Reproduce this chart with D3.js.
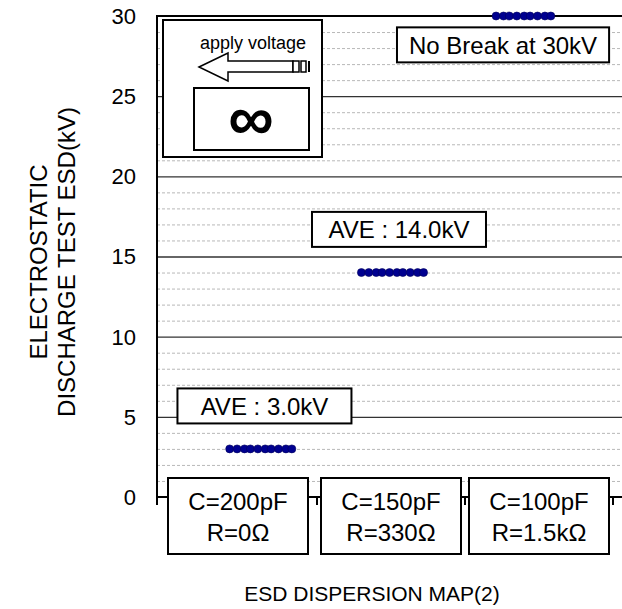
<!DOCTYPE html>
<html>
<head>
<meta charset="utf-8">
<script src="https://cdn.jsdelivr.net/npm/d3@7"></script>
<style>
  body { margin: 0; background: #fff; }
  svg { display: block; font-family: Arial, "Liberation Sans", sans-serif; }
</style>
</head>
<body>
<svg width="622" height="609"></svg>
<script>
// conditions (x axis categories)
const capLabels = ['C=200pF', 'C=150pF', 'C=100pF'];
const resLabels = ['R=0\u03A9', 'R=330\u03A9', 'R=1.5k\u03A9'];

// sample positions inside each category and the measured ESD level (kV)
const sampleX1 = [0.41, 0.46, 0.51, 0.55, 0.60, 0.65, 0.69, 0.74, 0.79, 0.83];
const esd1 = [3.0, 3.0, 3.0, 3.0, 3.0, 3.0, 3.0, 3.0, 3.0, 3.0];
const sampleX2 = [1.30, 1.35, 1.40, 1.44, 1.49, 1.54, 1.58, 1.63, 1.68, 1.72];
const esd2 = [14.0, 14.0, 14.0, 14.0, 14.0, 14.0, 14.0, 14.0, 14.0, 14.0];
const sampleX3 = [2.21, 2.26, 2.30, 2.35, 2.40, 2.44, 2.49, 2.54, 2.58];
const esd3 = [30, 30, 30, 30, 30, 30, 30, 30, 30];

const yTicks = [0, 5, 10, 15, 20, 25, 30];

// annotations: text, center x (category units), center y (kV)
const notes = [
  { text: 'AVE : 3.0kV', x: 0.645, y: 5.68 },
  { text: 'AVE : 14.0kV', x: 1.554, y: 16.69 },
  { text: 'No Break at 30kV', x: 2.257, y: 28.2 }
];

const svg = d3.select('svg');
const plotLeft = 157, plotTop = 16, plotBottom = 497, plotRight = 622;

const y = d3.scaleLinear().domain([0, 30]).range([plotBottom, plotTop]);
const x = d3.scaleLinear().domain([0, 3]).range([169, 613]);

// grid
svg.append('g')
  .selectAll('line')
  .data(d3.range(1, 30).filter(function (d) { return d % 5 !== 0; }))
  .enter().append('line')
  .attr('x1', plotLeft).attr('x2', plotRight)
  .attr('y1', function (d) { return y(d) + 0.5; })
  .attr('y2', function (d) { return y(d) + 0.5; })
  .attr('stroke', '#b8b8b8')
  .attr('stroke-dasharray', '3,2');

svg.append('g')
  .selectAll('line')
  .data([5, 10, 15, 20, 25])
  .enter().append('line')
  .attr('x1', plotLeft).attr('x2', plotRight)
  .attr('y1', function (d) { return y(d) + 0.5; })
  .attr('y2', function (d) { return y(d) + 0.5; })
  .attr('stroke', '#333')
  .attr('stroke-width', 1.3);

// frame: top border + left axis + bottom axis
svg.append('line')
  .attr('x1', plotLeft).attr('x2', plotRight)
  .attr('y1', y(30)).attr('y2', y(30))
  .attr('stroke', '#000').attr('stroke-width', 2);
svg.append('line')
  .attr('x1', plotLeft).attr('x2', plotRight)
  .attr('y1', y(0)).attr('y2', y(0))
  .attr('stroke', '#000').attr('stroke-width', 2);
svg.append('line')
  .attr('x1', plotLeft).attr('x2', plotLeft)
  .attr('y1', y(30) - 1).attr('y2', y(0) + 8)
  .attr('stroke', '#000').attr('stroke-width', 2);

// category separators on the bottom axis
svg.append('g')
  .selectAll('line')
  .data([1, 2, 3])
  .enter().append('line')
  .attr('x1', function (d) { return x(d); })
  .attr('x2', function (d) { return x(d); })
  .attr('y1', y(0)).attr('y2', y(0) + 8)
  .attr('stroke', '#000').attr('stroke-width', 2);

// y tick labels
svg.append('g')
  .selectAll('text')
  .data(yTicks)
  .enter().append('text')
  .attr('x', 136)
  .attr('y', function (d) { return y(d); })
  .attr('dy', '0.36em')
  .attr('text-anchor', 'end')
  .style('font-size', '22px')
  .text(function (d) { return d; });

// category boxes
const cat = svg.append('g')
  .selectAll('g')
  .data(capLabels)
  .enter().append('g')
  .attr('transform', function (d, i) {
    return 'translate(' + (x(i + 0.5) - 5 * (i === 0)) + ',' + 516 + ')';
  });
cat.append('rect')
  .attr('x', -70).attr('y', -38)
  .attr('width', 140).attr('height', 76)
  .attr('fill', '#fff').attr('stroke', '#000').attr('stroke-width', 2);
cat.append('text')
  .attr('y', -14).attr('dy', '0.35em')
  .attr('text-anchor', 'middle')
  .style('font-size', '24px')
  .text(function (d) { return d; });
cat.append('text')
  .attr('y', 17).attr('dy', '0.35em')
  .attr('text-anchor', 'middle')
  .style('font-size', '24px')
  .text(function (d, i) { return resLabels[i]; });

// data points
const series = [
  { xs: sampleX1, ys: esd1 },
  { xs: sampleX2, ys: esd2 },
  { xs: sampleX3, ys: esd3 }
];
series.forEach(function (s) {
  svg.append('g')
    .selectAll('circle')
    .data(s.ys)
    .enter().append('circle')
    .attr('cx', function (d, i) { return x(s.xs[i]); })
    .attr('cy', function (d) { return y(d); })
    .attr('r', 4)
    .attr('fill', '#000090')
    .attr('stroke', '#00005a')
    .attr('stroke-width', 0.6);
});

// annotation boxes
notes.forEach(function (n) {
  const g = svg.append('g')
    .attr('transform', 'translate(' + x(n.x) + ',' + y(n.y) + ')');
  const t = g.append('text')
    .attr('text-anchor', 'middle')
    .attr('dy', '0.36em')
    .style('font-size', '24px')
    .text(n.text);
  const w = Math.max(t.node().getComputedTextLength() + 24, 174);
  g.insert('rect', 'text')
    .attr('x', -w / 2).attr('y', -17.5)
    .attr('width', w).attr('height', 35)
    .attr('fill', '#fff').attr('stroke', '#000').attr('stroke-width', 2);
});

// inset illustration: apply voltage / infinity
const inset = svg.append('g').attr('transform', 'translate(163,20)');
inset.append('rect')
  .attr('width', 159).attr('height', 137)
  .attr('fill', '#fff').attr('stroke', '#000').attr('stroke-width', 2);
inset.append('text')
  .attr('x', 90).attr('y', 29)
  .attr('text-anchor', 'middle')
  .style('font-size', '18px')
  .text('apply voltage');
inset.append('path')
  .attr('d', 'M36,47 L65,33 L65,41 L130,41 L130,52 L65,52 L65,61 Z')
  .attr('fill', '#fff').attr('stroke', '#000').attr('stroke-width', 1.5);
inset.append('rect').attr('x', 130).attr('y', 41).attr('width', 6).attr('height', 11)
  .attr('fill', '#fff').attr('stroke', '#000').attr('stroke-width', 1.5);
inset.append('rect').attr('x', 138).attr('y', 41).attr('width', 5).attr('height', 11)
  .attr('fill', '#fff').attr('stroke', '#000').attr('stroke-width', 1.5);
inset.append('rect').attr('x', 145).attr('y', 41).attr('width', 2).attr('height', 11)
  .attr('fill', '#000');
inset.append('rect')
  .attr('x', 31).attr('y', 68)
  .attr('width', 115).attr('height', 62)
  .attr('fill', '#fff').attr('stroke', '#000').attr('stroke-width', 2);
inset.append('text')
  .attr('x', 88).attr('y', 120)
  .attr('text-anchor', 'middle')
  .style('font-size', '64px')
  .style('font-weight', 'bold')
  .text('\u221E');

// axis titles
svg.append('text')
  .attr('transform', 'translate(47,262) rotate(-90)')
  .attr('text-anchor', 'middle')
  .style('font-size', '24px')
  .text('ELECTROSTATIC');
svg.append('text')
  .attr('transform', 'translate(75,262) rotate(-90)')
  .attr('text-anchor', 'middle')
  .style('font-size', '24px')
  .text('DISCHARGE TEST ESD(kV)');
svg.append('text')
  .attr('x', 372).attr('y', 601)
  .attr('text-anchor', 'middle')
  .style('font-size', '21px')
  .text('ESD DISPERSION MAP(2)');
</script>
</body>
</html>
